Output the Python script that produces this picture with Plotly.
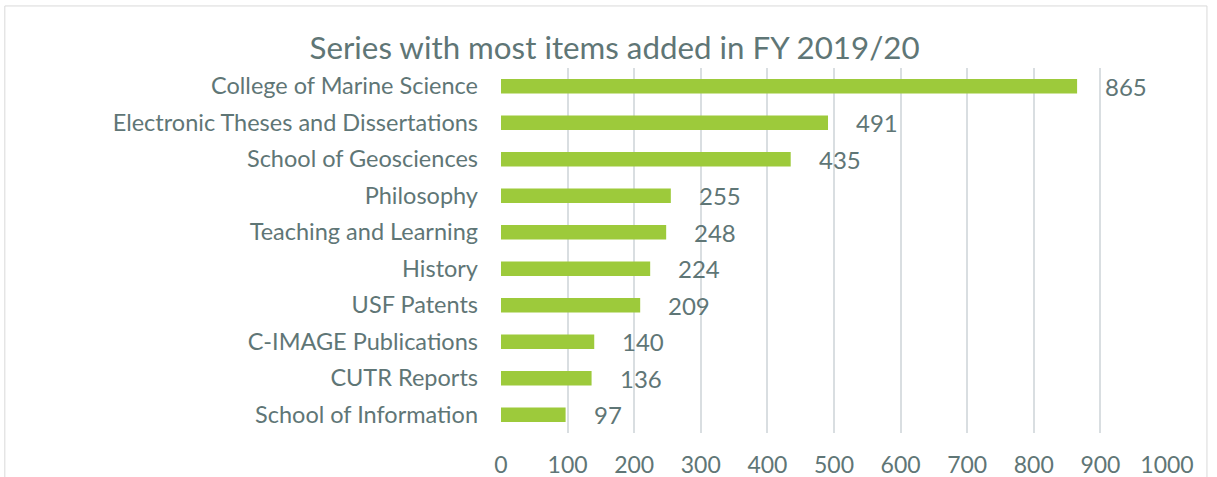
import plotly.graph_objects as go

categories = ["College of Marine Science", "Electronic Theses and Dissertations",
              "School of Geosciences", "Philosophy", "Teaching and Learning", "History",
              "USF Patents", "C-IMAGE Publications", "CUTR Reports", "School of Information"]
values = [865, 491, 435, 255, 248, 224, 209, 140, 136, 97]
x_ticks = [0, 100, 200, 300, 400, 500, 600, 700, 800, 900, 1000]

TXT = "#5f7676"
FONT = "Lato, Open Sans, sans-serif"

fig = go.Figure()
fig.add_trace(go.Bar(
    y=categories, x=values, orientation="h",
    marker=dict(color="#9dca3b", line=dict(width=0)),
    hoverinfo="x+y",
))

for c, v in zip(categories, values):
    fig.add_annotation(x=v, y=c, text=str(v), showarrow=False,
                       xanchor="left", xshift=26,
                       font=dict(family=FONT, size=24, color=TXT))

fig.update_layout(
    width=1217, height=477,
    margin=dict(l=501, r=50, t=68, b=44, autoexpand=False),
    paper_bgcolor="white", plot_bgcolor="white",
    bargap=0.6,
    showlegend=False,
    title=dict(text="Series with most items added in FY 2019/20",
               x=0.505, xanchor="center", y=0.9, yanchor="middle",
               font=dict(family=FONT, size=31.3, color=TXT)),
    font=dict(family=FONT, color=TXT),
)
fig.update_xaxes(range=[0, 1000], tickvals=x_ticks, ticktext=[str(t) for t in x_ticks],
                 showgrid=True, gridcolor="#d9dee1", gridwidth=2,
                 zeroline=False, showline=False, automargin=False,
                 tickfont=dict(family=FONT, size=23, color=TXT),
                 ticks="", ticklabelstandoff=16, fixedrange=True)
fig.update_yaxes(categoryorder="array", categoryarray=categories[::-1],
                 range=[-0.5, 9.5], showgrid=False, zeroline=False, showline=False,
                 automargin=False,
                 tickfont=dict(family=FONT, size=23.5, color=TXT),
                 ticks="", ticklabelstandoff=22, fixedrange=True)

fig.add_shape(type="rect", xref="paper", yref="paper",
              x0=-0.745, x1=1.06, y0=-0.2, y1=1.17,
              line=dict(color="#d9d9d9", width=1), fillcolor="rgba(0,0,0,0)", layer="below")

fig.write_html("out.html", config={"displayModeBar": False},
               post_script="document.body.style.margin='0';document.body.style.overflow='hidden';")
